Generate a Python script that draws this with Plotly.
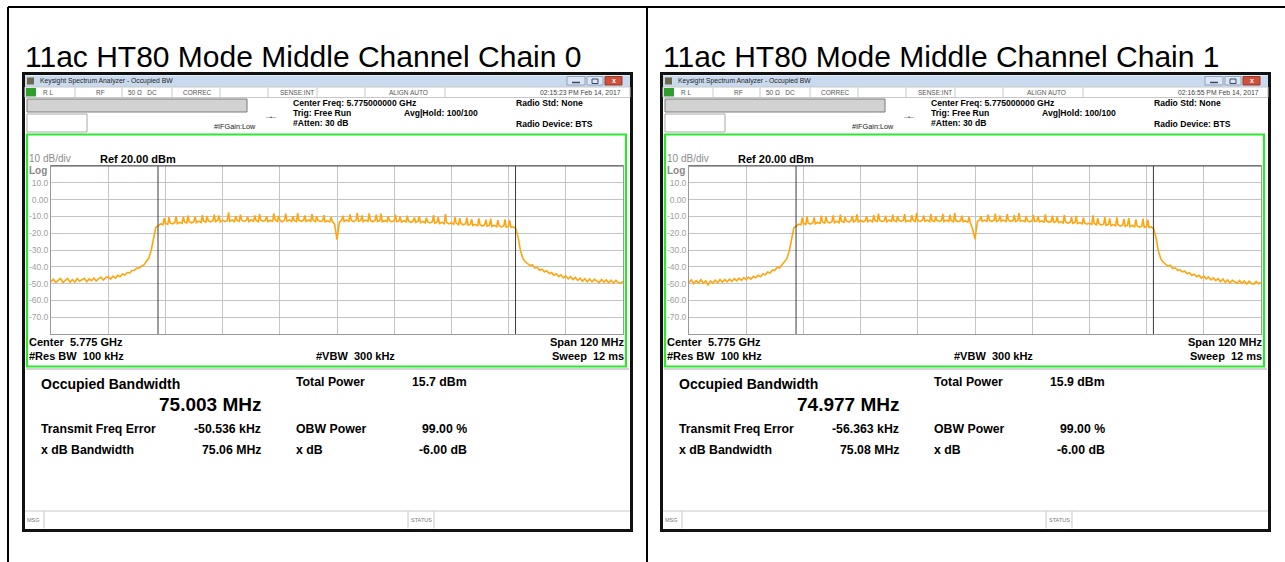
import plotly.graph_objects as go

W, H = 1285, 562
FONT = "Liberation Sans, Arial, Helvetica, sans-serif"

# ---------------- data ----------------
panel_titles = ["11ac HT80 Mode Middle Channel Chain 0", "11ac HT80 Mode Middle Channel Chain 1"]
timestamps = ["02:15:23 PM Feb 14, 2017", "02:16:55 PM Feb 14, 2017"]
occupied_bw_mhz = [75.003, 74.977]
total_power_dbm = [15.7, 15.9]
freq_error_khz = [-50.536, -56.363]
xdb_bw_mhz = [75.06, 75.08]
obw_power_pct = [99.00, 99.00]
xdb_db = [-6.00, -6.00]

center_ghz = 5.775
span_mhz = 120
ref_dbm = 20.0
db_per_div = 10
x_grid_mhz = [-48, -36, -24, -12, 0, 12, 24, 36, 48]
y_tick_vals = [10, 0, -10, -20, -30, -40, -50, -60, -70]
y_tick_text = ["10.0", "0.00", "-10.0", "-20.0", "-30.0", "-40.0", "-50.0", "-60.0", "-70.0"]

# sweep bins, offset from centre frequency (MHz), 0.5 MHz apart
freq_offset_mhz = [round(-60 + 0.5 * i, 1) for i in range(241)]

chain0_level_dbm = [
    -48.9, -47.4, -49.3, -47.9, -47.0, -49.4, -48.2, -46.9, -49.1, -47.6,
    -49.2, -47.0, -48.6, -47.5, -46.8, -48.9, -47.2, -48.3, -46.7, -48.5,
    -47.0, -46.2, -47.9, -46.4, -46.0, -47.3, -45.6, -46.8, -45.1, -45.9,
    -44.3, -44.9, -43.4, -43.6, -42.2, -42.1, -40.8, -40.7, -39.5, -38.9,
    -37.0, -34.8, -30.5, -22.5, -16.5, -15.6, -14.5, -14.9, -14.0, -14.7,
    -13.9, -14.5, -13.6, -14.3, -13.5, -14.1, -13.2, -13.9, -13.1, -13.8,
    -13.0, -13.7, -12.8, -13.6, -12.7, -13.4, -12.6, -13.3, -12.4, -13.2,
    -12.3, -13.2, -12.2, -13.1, -12.4, -13.0, -12.1, -13.1, -12.3, -12.9,
    -12.2, -13.0, -12.3, -13.1, -12.0, -12.9, -12.3, -13.2, -12.1, -12.9,
    -12.2, -13.1, -12.4, -12.9, -12.0, -13.0, -12.3, -13.2, -12.2, -12.8,
    -12.1, -13.0, -12.4, -13.1, -12.2, -12.9, -12.3, -13.0, -12.1, -12.9,
    -12.3, -13.1, -12.4, -13.0, -12.5, -13.2, -12.6, -13.3, -12.9, -14.6,
    -23.8,
    -13.6, -12.2, -13.0, -12.1, -12.9, -12.3, -13.1, -12.2, -12.9, -12.4,
    -13.1, -12.2, -12.9, -12.4, -13.2, -12.3, -13.0, -12.5, -13.2, -12.4,
    -13.1, -12.6, -13.3, -12.5, -13.2, -12.7, -13.4, -12.6, -13.3, -12.8,
    -13.5, -12.8, -13.6, -12.9, -13.7, -13.0, -13.8, -13.1, -13.9, -13.2,
    -14.0, -13.4, -14.2, -13.5, -14.3, -13.7, -14.5, -13.8, -14.7, -14.0,
    -14.9, -14.2, -15.0, -14.4, -15.2, -14.6, -15.4, -14.7, -15.5, -14.9,
    -15.7, -15.0, -15.8, -15.2, -16.0, -15.3, -16.1, -15.5, -16.3, -15.7,
    -16.4, -15.8, -16.5, -16.2, -17.2, -22.5, -30.5, -35.0, -37.0, -38.0,
    -39.3, -38.9, -40.8, -40.3, -42.0, -41.4, -43.1, -42.3, -44.0, -43.4,
    -45.1, -44.2, -45.9, -44.8, -46.6, -45.4, -47.2, -45.9, -47.6, -46.3,
    -48.1, -46.8, -48.6, -47.1, -48.9, -47.3, -49.0, -47.5, -48.7, -49.4,
    -47.6, -49.1, -47.8, -49.5, -48.0, -49.6, -48.1, -49.3, -49.9, -48.6,
]

chain1_level_dbm = [
    -49.3, -47.8, -50.0, -48.2, -49.6, -47.7, -49.8, -48.3, -50.8, -48.4,
    -49.7, -48.0, -49.5, -47.6, -49.2, -47.5, -49.0, -47.3, -48.7, -47.1,
    -48.4, -46.8, -48.1, -46.4, -47.6, -46.1, -47.3, -45.7, -46.5, -45.0,
    -45.9, -44.3, -44.8, -43.1, -43.7, -41.9, -42.1, -40.4, -40.6, -38.8,
    -37.6, -35.3, -31.0, -23.0, -16.8, -15.8, -14.6, -15.0, -14.1, -14.8,
    -14.0, -14.6, -13.7, -14.4, -13.6, -14.2, -13.3, -14.0, -13.2, -13.9,
    -13.1, -13.8, -12.9, -13.7, -12.8, -13.5, -12.7, -13.4, -12.5, -13.3,
    -12.4, -13.3, -12.3, -13.2, -12.5, -13.1, -12.2, -13.2, -12.4, -13.0,
    -12.3, -13.1, -12.4, -13.2, -12.1, -13.0, -12.4, -13.1, -12.2, -13.0,
    -12.3, -13.2, -12.5, -13.0, -12.1, -13.1, -12.4, -13.0, -12.3, -12.9,
    -12.2, -13.1, -12.5, -13.0, -12.3, -13.0, -12.4, -13.1, -12.2, -13.0,
    -12.4, -13.2, -12.5, -13.1, -12.6, -13.2, -12.7, -13.4, -13.6, -17.5,
    -23.5,
    -13.0, -12.1, -12.9, -12.2, -13.0, -12.2, -12.9, -12.3, -13.0, -12.3,
    -12.9, -12.2, -13.0, -12.3, -12.9, -12.4, -13.1, -12.3, -12.9, -12.5,
    -13.1, -12.5, -13.2, -12.6, -13.1, -12.7, -13.3, -12.7, -13.4, -12.8,
    -13.4, -12.9, -13.6, -13.0, -13.7, -13.1, -13.9, -13.2, -14.0, -13.4,
    -14.1, -13.5, -14.3, -13.7, -14.4, -13.9, -14.6, -14.0, -14.8, -14.2,
    -15.0, -14.3, -15.1, -14.6, -15.3, -14.7, -15.5, -14.9, -15.6, -15.0,
    -15.8, -15.1, -15.9, -15.3, -16.1, -15.4, -16.2, -15.6, -16.4, -15.8,
    -16.5, -15.9, -16.6, -16.3, -17.5, -23.0, -31.0, -35.4, -37.3, -38.3,
    -39.6, -39.1, -41.0, -40.6, -42.1, -41.8, -43.0, -42.6, -44.1, -43.5,
    -45.0, -44.4, -45.9, -45.1, -46.7, -45.6, -47.2, -46.1, -47.8, -46.6,
    -48.2, -47.0, -48.9, -47.3, -49.2, -47.8, -49.6, -48.0, -49.0, -49.9,
    -48.1, -49.8, -48.4, -50.2, -48.6, -49.9, -50.3, -48.7, -50.1, -49.2,
]

# narrow in-band peaks (offset MHz) and their levels
spike_offset_mhz = [
    -36.25, -35.25, -33.75, -32.25, -31.25, -29.75, -28.25, -27.25, -25.75, -24.75,
    -22.75, -21.25, -20.25, -18.75, -17.25, -16.25, -14.75, -13.25, -12.25, -10.75,
    -9.25, -8.25, -6.75, -5.25, -4.25, -2.75, -1.25,
    1.25, 2.75, 4.25, 5.25, 6.75, 8.25, 9.25, 10.75, 12.25, 13.25,
    14.75, 16.25, 17.25, 18.75, 20.25, 21.25, 22.75, 24.75, 25.75, 27.25,
    28.25, 29.75, 31.25, 32.25, 33.75, 35.25, 36.25,
]
chain0_spike_dbm = [
    -11.0, -10.5, -9.8, -10.2, -9.5, -10.0, -9.2, -9.8, -9.0, -9.5,
    -7.6, -9.8, -9.0, -10.2, -9.4, -8.6, -9.9, -8.2, -9.6, -8.4,
    -9.8, -8.0, -9.4, -8.6, -9.9, -9.2, -10.4,
    -9.6, -8.8, -8.0, -9.4, -8.2, -9.0, -8.4, -9.8, -8.9, -10.2,
    -9.5, -10.6, -9.9, -10.8, -9.2, -10.4, -8.6, -10.5, -11.0, -10.8,
    -11.6, -11.2, -12.0, -11.4, -12.2, -11.8, -12.4,
]
chain1_spike_dbm = [
    -10.8, -10.2, -10.6, -9.6, -10.1, -9.4, -9.0, -10.3, -9.7, -8.8,
    -9.9, -9.2, -8.4, -9.6, -8.9, -9.8, -8.6, -9.3, -8.1, -9.5,
    -8.7, -9.9, -8.5, -9.1, -8.0, -9.6, -10.1,
    -9.8, -9.0, -8.3, -9.5, -8.6, -9.2, -8.0, -9.7, -9.1, -10.0,
    -8.8, -9.6, -10.2, -9.3, -10.5, -9.7, -10.8, -9.4, -11.0, -10.4,
    -11.2, -10.6, -11.5, -11.0, -11.8, -11.3, -12.0,
]

chain_levels = [chain0_level_dbm, chain1_level_dbm]
chain_spikes = [chain0_spike_dbm, chain1_spike_dbm]

# ---------------- helpers ----------------
shapes = []
annotations = []


def px(x):
    return x / W


def py(y):
    return 1 - y / H


def rect(x0, y0, x1, y1, line=None, width=1, fill=None, layer="below"):
    shapes.append(dict(
        type="rect", xref="paper", yref="paper",
        x0=px(x0), y0=py(y1), x1=px(x1), y1=py(y0),
        line=dict(color=line if line else "rgba(0,0,0,0)", width=width if line else 0),
        fillcolor=fill if fill else "rgba(0,0,0,0)", layer=layer))


def seg(x0, y0, x1, y1, color, width=1, layer="above"):
    shapes.append(dict(
        type="line", xref="paper", yref="paper",
        x0=px(x0), y0=py(y0), x1=px(x1), y1=py(y1),
        line=dict(color=color, width=width), layer=layer))


def text(x, y, s, size, color="#000000", bold=False, anchor="left"):
    annotations.append(dict(
        xref="paper", yref="paper", x=px(x), y=py(y),
        text=f"<b>{s}</b>" if bold else s, showarrow=False,
        xanchor=anchor, yanchor="middle", borderpad=0,
        font=dict(family=FONT, size=size, color=color)))


NB = "\u00a0"

# ---------------- page frame ----------------
seg(8, 7, 1285, 7, "#000000", 2)
seg(8, 7, 8, 562, "#000000", 2)
seg(647, 7, 647, 562, "#000000", 2)

fig = go.Figure()

PLOT_L, PLOT_R, PLOT_T, PLOT_B = 51, 623, 166, 334
PANEL_DX = 638

for k in range(2):
    ox = k * PANEL_DX
    X = lambda v: v + ox

    text(X(24), 57, panel_titles[k], 30, "#000000")

    # screenshot frame
    rect(X(23.5), 73.5, X(631.5), 530.5, "#111111", 3, "#FFFFFF")
    # title bar
    rect(X(25), 75.5, X(630), 87, None, 0, "#C9DAEE")
    rect(X(27), 77.5, X(34), 84.5, None, 0, "#6E6A4E")
    text(X(39), 81.5, "Keysight Spectrum Analyzer - Occupied BW", 6.8, "#1E1E1E")
    rect(X(567), 76.5, X(585), 85, "#8FA3C0", 1, "#DCE6F3")
    rect(X(587), 76.5, X(603), 85, "#8FA3C0", 1, "#DCE6F3")
    rect(X(605), 76.5, X(622), 85, "#9A3A2A", 1, "#D0503C")
    seg(X(572), 82.5, X(580), 82.5, "#3A4A66", 1.5)
    rect(X(592), 79, X(598), 83.5, "#3A4A66", 1)
    text(X(613.5), 80.8, "x", 7, "#FFFFFF", True, "center")

    # status row
    rect(X(25), 87, X(630), 97.5, "#C8C8C8", 1, "#FFFFFF")
    rect(X(26), 88, X(36), 96.5, None, 0, "#2F9E2F")
    for sx in [75, 122, 172, 220, 268, 317, 365, 445]:
        seg(X(sx), 87.5, X(sx), 97, "#C8C8C8", 1)
    text(X(42), 92.5, "R L", 6.5, "#555555")
    text(X(95), 92.5, "RF", 6.5, "#555555")
    text(X(127), 92.5, "50 Ω" + NB * 3 + "DC", 6.5, "#555555")
    text(X(182), 92.5, "CORREC", 6.5, "#555555")
    text(X(279), 92.5, "SENSE:INT", 6.5, "#555555")
    text(X(388), 92.5, "ALIGN AUTO", 6.5, "#555555")
    text(X(622), 92.5, timestamps[k], 6.8, "#444444", False, "right")

    # info area
    rect(X(27), 99, X(247), 112, "#7A7A7A", 1, "#D2D2D2")
    rect(X(27), 114, X(87), 132, "#A8A8A8", 1, "#FFFFFF")
    text(X(213), 126, "#IFGain:Low", 7.3, "#222222")
    text(X(265), 117, "--•--", 6, "#333333")
    text(X(292), 103.5, f"Center Freq: {center_ghz:.9f} GHz", 8.6, "#000000", True)
    text(X(292), 113, "Trig: Free Run", 8.6, "#000000", True)
    text(X(292), 122.5, "#Atten: 30 dB", 8.6, "#000000", True)
    text(X(403), 113, "Avg|Hold: 100/100", 8.6, "#000000", True)
    text(X(515), 103.5, "Radio Std: None", 8.6, "#000000", True)
    text(X(515), 124, "Radio Device: BTS", 8.6, "#000000", True)

    # green graticule window
    rect(X(27), 134.5, X(626), 366.5, "#2EE62E", 2.2, None)
    seg(X(26), 369, X(629), 369, "#A8A8A8", 1)

    text(X(28), 159, "10 dB/div", 10, "#8C8C8C")
    text(X(99), 159, f"Ref {ref_dbm:.2f} dBm", 11, "#000000", True)
    text(X(28), 170, "Log", 10, "#8A8A8A", True)

    text(X(28), 342, "Center" + NB * 2 + f"{center_ghz:.3f} GHz", 11, "#000000", True)
    text(X(28), 355.5, "#Res BW" + NB * 2 + "100 kHz", 11, "#000000", True)
    text(X(315), 355.5, "#VBW" + NB * 2 + "300 kHz", 11, "#000000", True)
    text(X(625), 342, f"Span {span_mhz} MHz", 11, "#000000", True, "right")
    text(X(625), 355.5, "Sweep" + NB * 2 + "12 ms", 11, "#000000", True, "right")

    # result table
    text(X(40), 384, "Occupied Bandwidth", 14, "#000000", True)
    text(X(262), 404.5, f"{occupied_bw_mhz[k]:.3f} MHz", 19, "#000000", True, "right")
    text(X(295), 382, "Total Power", 12.3, "#000000", True)
    text(X(468), 382, f"{total_power_dbm[k]:.1f} dBm", 12.3, "#000000", True, "right")
    text(X(40), 429, "Transmit Freq Error", 12.3, "#000000", True)
    text(X(262), 429, f"{freq_error_khz[k]:.3f} kHz", 12.3, "#000000", True, "right")
    text(X(295), 429, "OBW Power", 12.3, "#000000", True)
    text(X(468), 429, f"{obw_power_pct[k]:.2f} %", 12.3, "#000000", True, "right")
    text(X(40), 450, "x dB Bandwidth", 12.3, "#000000", True)
    text(X(262), 450, f"{xdb_bw_mhz[k]:.2f} MHz", 12.3, "#000000", True, "right")
    text(X(295), 450, "x dB", 12.3, "#000000", True)
    text(X(468), 450, f"{xdb_db[k]:.2f} dB", 12.3, "#000000", True, "right")

    # message bar
    seg(X(25), 511, X(630), 511, "#C8C8C8", 1)
    for sx in [44, 408, 434]:
        seg(X(sx), 511, X(sx), 528.5, "#C8C8C8", 1)
    text(X(26), 519.5, "MSG", 5.5, "#777777")
    text(X(410), 519.5, "STATUS", 5.5, "#777777")

    # spectrum trace
    pts = sorted(list(zip(freq_offset_mhz, chain_levels[k])) +
                 list(zip(spike_offset_mhz, chain_spikes[k])))
    xa = "x" if k == 0 else "x2"
    ya = "y" if k == 0 else "y2"
    fig.add_trace(go.Scatter(
        x=[p[0] for p in pts], y=[p[1] for p in pts], mode="lines",
        line=dict(color="#FFA510", width=1.6), xaxis=xa, yaxis=ya,
        hoverinfo="skip", showlegend=False))

    # OBW markers
    c = freq_error_khz[k] / 1000.0
    for edge in (c - occupied_bw_mhz[k] / 2, c + occupied_bw_mhz[k] / 2):
        shapes.append(dict(type="line", xref=xa, yref=f"{ya} domain",
                           x0=edge, x1=edge, y0=0, y1=1,
                           line=dict(color="#3A3A3A", width=1), layer="above"))
    # darker top border of graticule
    seg(X(PLOT_L), PLOT_T, X(PLOT_R), PLOT_T, "#555555", 1.2)

axis_common = dict(showgrid=True, gridcolor="#C4C4C4", gridwidth=1, zeroline=False,
                   showline=True, linecolor="#9A9A9A", linewidth=1, mirror=True,
                   fixedrange=True)

x0d = [px(PLOT_L), px(PLOT_R)]
x1d = [px(PLOT_L + PANEL_DX), px(PLOT_R + PANEL_DX)]
yd = [py(PLOT_B), py(PLOT_T)]

xcfg = dict(range=[-span_mhz / 2, span_mhz / 2], tickvals=x_grid_mhz, showticklabels=False, ticks="", **axis_common)
ycfg = dict(range=[ref_dbm - 10 * db_per_div, ref_dbm], tickvals=y_tick_vals, ticktext=y_tick_text,
            tickfont=dict(family=FONT, size=8.5, color="#A0A0A0"), ticks="", **axis_common)

fig.update_layout(
    width=W, height=H, autosize=False,
    margin=dict(l=0, r=0, t=0, b=0, pad=0),
    paper_bgcolor="#FFFFFF", plot_bgcolor="rgba(0,0,0,0)",
    showlegend=False,
    xaxis=dict(domain=x0d, anchor="y", **xcfg),
    yaxis=dict(domain=yd, anchor="x", **ycfg),
    xaxis2=dict(domain=x1d, anchor="y2", **xcfg),
    yaxis2=dict(domain=yd, anchor="x2", **ycfg),
    shapes=shapes,
    annotations=annotations,
)

fig.write_html("out.html", config={"displayModeBar": False},
               post_script="document.body.style.margin='0';document.body.style.overflow='hidden';")
